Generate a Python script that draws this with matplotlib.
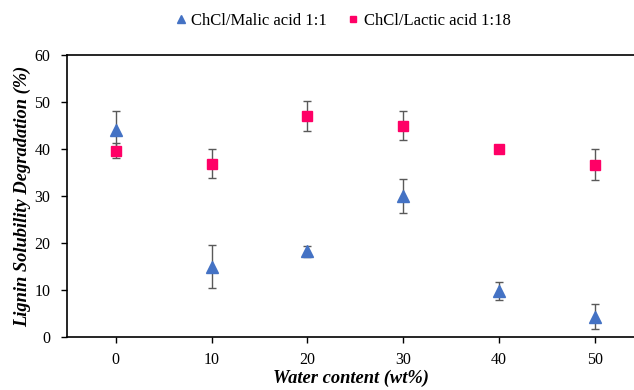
import matplotlib
matplotlib.use("Agg")
import matplotlib.pyplot as plt

water = [0, 10, 20, 30, 40, 50]
malic = [44.0, 15.0, 18.2, 30.0, 9.8, 4.3]
malic_err = [4.0, 4.6, 1.2, 3.7, 2.0, 2.7]
lactic = [39.6, 36.9, 47.0, 45.0, 40.0, 36.7]
lactic_err = [1.6, 3.0, 3.2, 3.0, 0.0, 3.4]

plt.rcParams["font.family"] = ["Liberation Serif", "DejaVu Serif"]

fig = plt.figure(figsize=(6.34, 3.9), dpi=100)
ax = fig.add_axes([67 / 634, 1 - 337 / 390, 1 - 67 / 634, (337 - 55) / 390])

ax.errorbar(water, malic, yerr=malic_err, fmt="^", color="#4472C4", ms=8.5,
            ecolor="#595959", elinewidth=1, capsize=3, capthick=1,
            label="ChCl/Malic acid 1:1", zorder=3)
ax.errorbar(water, lactic, yerr=lactic_err, fmt="s", color="#FF0066", ms=6.5,
            ecolor="#595959", elinewidth=1, capsize=3, capthick=1,
            label="ChCl/Lactic acid 1:18", zorder=3)

ax.set_xlim(-5.1, 54.1)
ax.set_ylim(0, 60)
ax.set_xticks(water)
ax.set_yticks(range(0, 61, 10))
ax.tick_params(labelsize=11.5, direction="out", length=4, width=1)
ax.tick_params(axis="x", pad=7)
ax.tick_params(axis="y", pad=8)
ax.spines["right"].set_visible(False)
for s in ["left", "bottom", "top"]:
    ax.spines[s].set_linewidth(1.2)

ax.set_xlabel("Water content (wt%)", fontsize=13.3, fontweight="bold",
              fontstyle="italic", labelpad=1)
ax.set_ylabel("Lignin Solubility Degradation (%)", fontsize=13.3,
              fontweight="bold", fontstyle="italic", labelpad=2)

handles, labels = ax.get_legend_handles_labels()
handles = [h[0] for h in handles]
fig.legend(handles, labels, loc="upper center", bbox_to_anchor=(0.542, 1.005),
           ncol=2, frameon=False, fontsize=12, handlelength=0.5,
           handletextpad=0.4, columnspacing=1.3, markerscale=0.65)

fig.savefig("out.png", dpi=100)
